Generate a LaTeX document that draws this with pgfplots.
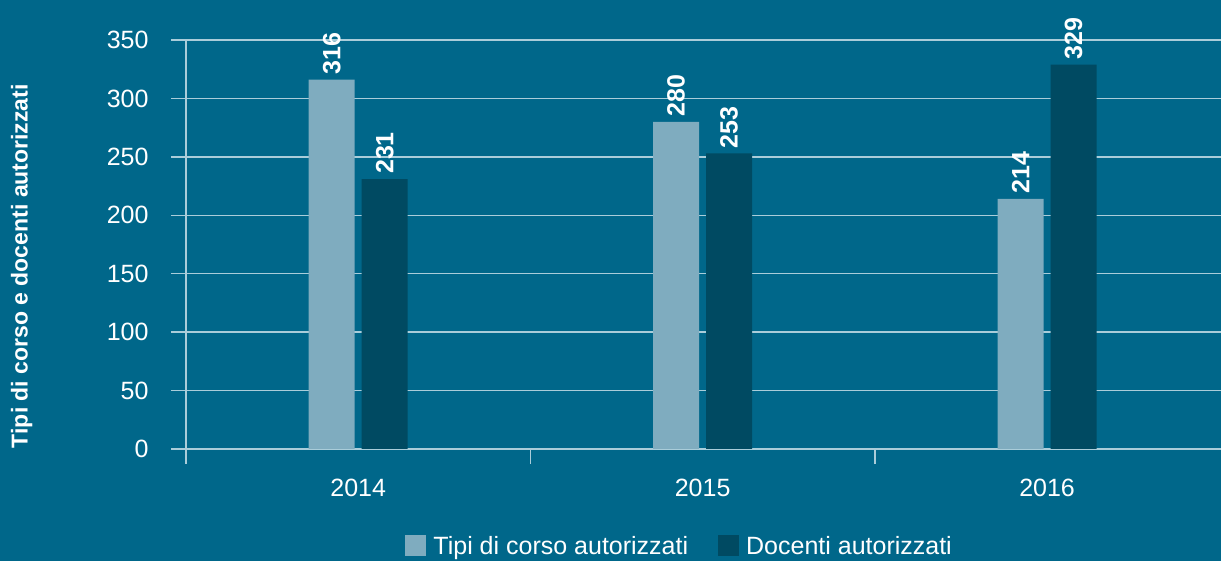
\documentclass[border=0pt]{standalone}
\usepackage{fontspec}
\setmainfont{Liberation Sans}
\usepackage{pgfplots}
\pgfplotsset{compat=1.18}
\definecolor{bg}{RGB}{0,103,138}
\definecolor{lightbar}{RGB}{127,172,191}
\definecolor{darkbar}{RGB}{0,74,98}
\definecolor{gridc}{RGB}{170,205,218}
\begin{document}
\fontsize{25pt}{30pt}\selectfont
\begin{tikzpicture}
\fill[bg] (0,0) rectangle (1221pt,561pt);
\useasboundingbox (0,0) rectangle (1221pt,561pt);
\begin{axis}[
  at={(186pt,112pt)}, anchor=south west,
  scale only axis, width=1035pt, height=409pt,
  xmin=0, xmax=3.005, ymin=0, ymax=350,
  /pgf/number format/assume math mode=true,
  axis x line*=bottom, axis y line*=left,
  axis line style={-, draw=gridc, line width=1.5pt},
  ytick={0,50,...,350},
  tick align=outside,
  major tick length=15pt,
  tick style={draw=gridc, line width=1.5pt},
  ymajorgrids, grid style={draw=gridc, line width=1.5pt},
  xtick={0,1,2}, xticklabels={},
  extra x ticks={0.5,1.5,2.5},
  extra x tick labels={2014,2015,2016},
  extra x tick style={major tick length=0pt, tick style={draw=none}, grid=none},
  xticklabel style={text=white, yshift=-22pt},
  yticklabel style={text=white, xshift=-14pt},
  ylabel={\fontsize{23pt}{27pt}\selectfont\bfseries Tipi di corso e docenti autorizzati},
  ylabel style={text=white, at={(axis description cs:-0.1588,0.447)}, anchor=center, rotate=0},
  ybar=7pt, bar width=46pt,
  nodes near coords,
  every node near coord/.append style={rotate=90, anchor=west, font=\bfseries, text=white, inner sep=5pt},
  legend style={at={(axis description cs:0.476,-0.237)}, anchor=center, legend columns=2,
    draw=none, fill=none, text=white,
    nodes={inner sep=0pt, text depth=0pt},
    /tikz/every odd column/.append style={column sep=7pt},
    /tikz/every even column/.append style={column sep=30pt}},
  legend image code/.code={\fill[#1] (0pt,-10.5pt) rectangle (21pt,10.5pt);},
  clip=false,
]
\addplot[fill=lightbar, draw=none] coordinates {(0.5,316) (1.5,280) (2.5,214)};
\addplot[fill=darkbar, draw=none] coordinates {(0.5,231) (1.5,253) (2.5,329)};
\legend{Tipi di corso autorizzati, Docenti autorizzati}
\end{axis}
\end{tikzpicture}
\end{document}
